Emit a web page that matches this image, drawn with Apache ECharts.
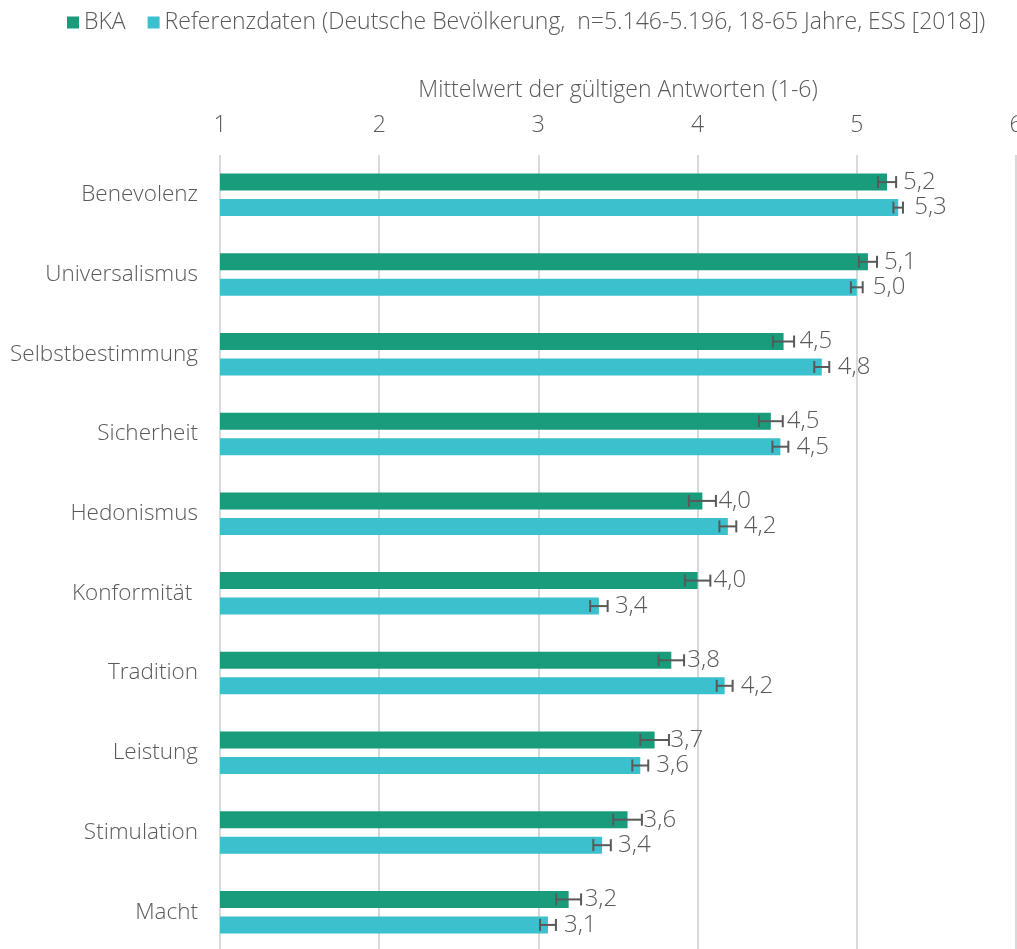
<!DOCTYPE html>
<html>
<head>
<meta charset="utf-8">
<script src="https://cdn.jsdelivr.net/npm/echarts@6/dist/echarts.min.js"></script>
<style>
  html, body { margin: 0; padding: 0; background: #fff; }
  #chart { width: 1017px; height: 949px; }
</style>
</head>
<body>
<div id="chart"></div>
<script>
// Kategorien (von oben nach unten)
const categories = ['Benevolenz', 'Universalismus', 'Selbstbestimmung', 'Sicherheit', 'Hedonismus',
  'Konformität ', 'Tradition', 'Leistung', 'Stimulation', 'Macht'];

// Mittelwerte
const bkaValues = [5.19, 5.07, 4.54, 4.46, 4.03, 4.00, 3.835, 3.73, 3.56, 3.19];
const refValues = [5.26, 5.00, 4.78, 4.52, 4.19, 3.38, 4.17, 3.64, 3.40, 3.06];

// Fehlerbalken (+/-)
const bkaErrors = [0.057, 0.057, 0.066, 0.075, 0.085, 0.08, 0.08, 0.09, 0.09, 0.078];
const refErrors = [0.03, 0.037, 0.047, 0.05, 0.053, 0.055, 0.05, 0.05, 0.055, 0.05];

const xTicks = [1, 2, 3, 4, 5, 6];

const seriesNames = ['BKA', 'Referenzdaten (Deutsche Bevölkerung,  n=5.146-5.196, 18-65 Jahre, ESS [2018])'];

const FONT = '"Open Sans", "Noto Sans", sans-serif';
const GREY = '#595959';
const W = 350;

function fmt(v) {
  return v.toFixed(1).replace('.', ',');
}

function errorBar(offset) {
  return function (params, api) {
    const mean = api.value(0);
    const cat = api.value(1);
    const err = api.value(2);
    const lo = api.coord([mean - err, cat]);
    const hi = api.coord([mean + err, cat]);
    const y = lo[1] + offset;
    const cap = 6;
    const style = { stroke: GREY, lineWidth: 2 };
    return {
      type: 'group',
      children: [
        { type: 'line', shape: { x1: lo[0], y1: y, x2: hi[0], y2: y }, style: style },
        { type: 'line', shape: { x1: lo[0], y1: y - cap, x2: lo[0], y2: y + cap }, style: style },
        { type: 'line', shape: { x1: hi[0], y1: y - cap, x2: hi[0], y2: y + cap }, style: style }
      ]
    };
  };
}

const chart = echarts.init(document.getElementById('chart'));
chart.setOption({
  animation: false,
  textStyle: { fontFamily: FONT, color: GREY, fontWeight: W },
  legend: {
    data: seriesNames,
    left: 62,
    top: 6,
    itemWidth: 12,
    itemHeight: 12,
    itemGap: 22,
    icon: 'rect',
    textStyle: { fontSize: 23, color: GREY, fontFamily: FONT, fontWeight: W }
  },
  grid: { left: 220, right: 1, top: 155, height: 797, containLabel: false, outerBoundsMode: 'none' },
  xAxis: {
    type: 'value',
    position: 'top',
    min: xTicks[0],
    max: xTicks[xTicks.length - 1],
    interval: 1,
    name: 'Mittelwert der gültigen Antworten (1-6)',
    nameLocation: 'middle',
    nameGap: 53,
    nameTextStyle: { fontSize: 23, color: GREY, fontWeight: W },
    axisLine: { show: false },
    axisTick: { show: false },
    axisLabel: { fontSize: 23, color: GREY, margin: 18, fontWeight: W },
    splitLine: { show: true, lineStyle: { color: '#d9d9d9', width: 2 } }
  },
  yAxis: {
    type: 'category',
    inverse: true,
    data: categories,
    axisLine: { show: false },
    axisTick: { show: false },
    axisLabel: { fontSize: 22.5, color: GREY, margin: 22, fontWeight: W }
  },
  series: [
    {
      name: seriesNames[0],
      type: 'bar',
      data: bkaValues,
      barWidth: 17,
      barGap: '50%',
      itemStyle: { color: '#199c7b' },
      label: { show: true, position: 'right', distance: 16, fontSize: 24, color: GREY, fontWeight: W,
        formatter: p => fmt(p.value) }
    },
    {
      name: seriesNames[1],
      type: 'bar',
      data: refValues,
      barWidth: 17,
      itemStyle: { color: '#3bc1ce' },
      label: { show: true, position: 'right', distance: 16, fontSize: 24, color: GREY, fontWeight: W,
        formatter: p => fmt(p.value) }
    },
    {
      type: 'custom',
      renderItem: errorBar(-12.75),
      data: bkaValues.map((v, i) => [v, i, bkaErrors[i]]),
      encode: { x: 0, y: 1 },
      z: 5,
      silent: true
    },
    {
      type: 'custom',
      renderItem: errorBar(12.75),
      data: refValues.map((v, i) => [v, i, refErrors[i]]),
      encode: { x: 0, y: 1 },
      z: 5,
      silent: true
    }
  ]
});
</script>
</body>
</html>
